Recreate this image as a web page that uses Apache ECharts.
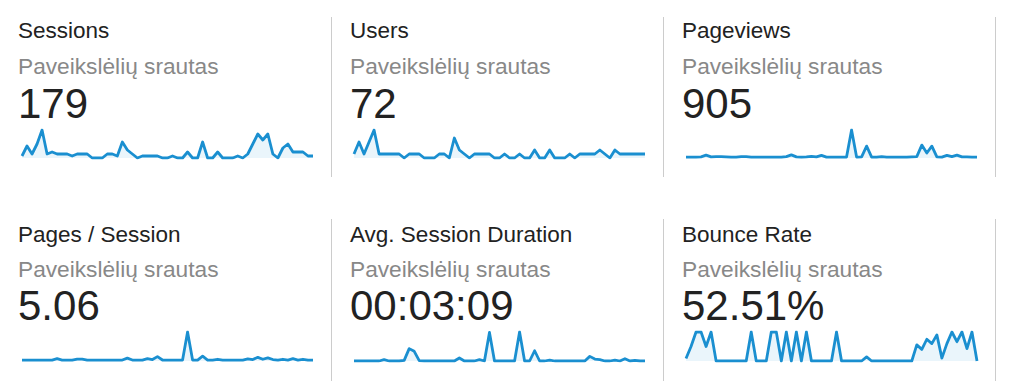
<!DOCTYPE html>
<html>
<head>
<meta charset="utf-8">
<script src="https://cdn.jsdelivr.net/npm/echarts@6.0.0/dist/echarts.min.js"></script>
<style>
html,body{margin:0;padding:0;background:#ffffff;}
#chart{width:1024px;height:391px;}
</style>
</head>
<body>
<div id="chart"></div>
<script>
// ---- data ----
const days = ["1","2","3","4","5","6","7","8","9","10","11","12","13","14","15","16","17","18","19","20",
  "21","22","23","24","25","26","27","28","29","30","31","32","33","34","35","36","37","38","39","40",
  "41","42","43","44","45","46","47","48","49","50","51","52","53","54","55","56","57","58","59"];
const titles = ["Sessions", "Users", "Pageviews", "Pages / Session", "Avg. Session Duration", "Bounce Rate"];
const segmentName = "Paveikslėlių srautas";
const totals = ["179", "72", "905", "5.06", "00:03:09", "52.51%"];

const sessions = [1,6,2,7,14,2,3,2,2,2,1,2,2,2,0,0,0,2,2,1,8,4,2,0,1,1,1,1,0,0,1,0,0,3,0,0,8,0,0,3,0,0,0,1,0,2,7,12,9,12,2,0,5,7,3,3,3,1,1];
const users = [1,4,1,4,7,1,1,1,1,1,0,1,1,1,0,0,0,1,1,0,5,2,1,0,1,1,1,1,0,0,1,0,0,1,0,0,2,0,0,2,0,0,0,1,0,1,1,1,1,2,1,0,2,1,1,1,1,1,1];
const pageviews = [8,8,8,10,25,10,12,12,10,8,8,12,12,8,8,8,8,8,8,8,12,28,10,8,10,14,10,24,8,8,8,8,8,250,8,10,106,8,8,12,8,8,8,8,8,10,12,115,45,106,10,8,24,12,26,10,10,8,8];
const pagesPerSession = [1,1,1,1,1,1,1,2.5,1,1,1,2,2,1,1,1,1,1,1,1,1,3,1,1,1,2.5,1.5,4.5,1,1,1,1,1,30,1,1,5,1,1,1.8,1,1,1,1,1,2.2,1.5,3.8,1.8,3.3,1.5,1,1.8,1,2.5,1,1.8,1,1];
const avgDurationSec = [0,0,0,0,0,0,70,0,0,0,30,640,500,15,0,0,0,0,0,0,0,155,0,0,0,70,0,1480,0,0,0,0,0,1500,0,0,530,0,0,50,0,0,0,0,0,0,0,240,100,70,0,0,50,0,120,0,30,0,0];
const bounceRate = [8.33,50,100,100,50,100,0,0,0,0,0,0,0,100,0,0,0,100,100,0,100,0,100,0,100,0,0,0,0,0,100,0,0,0,0,0,14.29,0,0,0,0,0,0,0,0,0,55.56,40,75,60,90,10,60,100,66.67,100,42.86,100,0];

const seriesData = [sessions, users, pageviews, pagesPerSession, avgDurationSec, bounceRate];

// ---- layout ----
const colStep = 332;
const rowText = [[30, 66, 103], [234, 269, 305]];
const rowGrid = [{top: 130, height: 28}, {top: 332, height: 29}];
const rowDivider = [[17, 177], [219, 381]];
const lineColor = '#1a8fd0';
const fontFam = '"Liberation Sans", Arial, Helvetica, sans-serif';

const grids = [], xAxes = [], yAxes = [], series = [], graphics = [];
for (let k = 0; k < 6; k++) {
  const col = k % 3, row = Math.floor(k / 3);
  const x0 = 18 + col * colStep;
  grids.push({left: 22 + col * colStep, width: 291, top: rowGrid[row].top, height: rowGrid[row].height});
  xAxes.push({type: 'category', gridIndex: k, data: days, boundaryGap: false, show: false});
  yAxes.push({type: 'value', gridIndex: k, min: 0, max: 'dataMax', show: false});
  series.push({
    type: 'line', xAxisIndex: k, yAxisIndex: k, data: seriesData[k],
    showSymbol: false, silent: true, animation: false,
    lineStyle: {color: lineColor, width: 2.8, join: 'round'},
    areaStyle: {color: 'rgba(26,143,208,0.13)'}
  });
  const t = rowText[row];
  graphics.push({type: 'text', x: x0, y: t[0], style: {text: titles[k], fill: '#222222', font: '22.5px ' + fontFam, verticalAlign: 'middle', textVerticalAlign: 'middle'}});
  graphics.push({type: 'text', x: x0, y: t[1], style: {text: segmentName, fill: '#888888', font: '22.7px ' + fontFam, verticalAlign: 'middle', textVerticalAlign: 'middle'}});
  graphics.push({type: 'text', x: x0, y: t[2], style: {text: totals[k], fill: '#222222', font: '42px ' + fontFam, verticalAlign: 'middle', textVerticalAlign: 'middle'}});
  const dx = 331.5 + col * colStep;
  graphics.push({type: 'line', shape: {x1: dx, y1: rowDivider[row][0], x2: dx, y2: rowDivider[row][1]}, style: {stroke: '#cccccc', lineWidth: 1}});
}

const chart = echarts.init(document.getElementById('chart'), null, {renderer: 'svg'});
chart.setOption({
  animation: false,
  backgroundColor: '#ffffff',
  grid: grids,
  xAxis: xAxes,
  yAxis: yAxes,
  series: series,
  graphic: graphics
});
</script>
</body>
</html>
